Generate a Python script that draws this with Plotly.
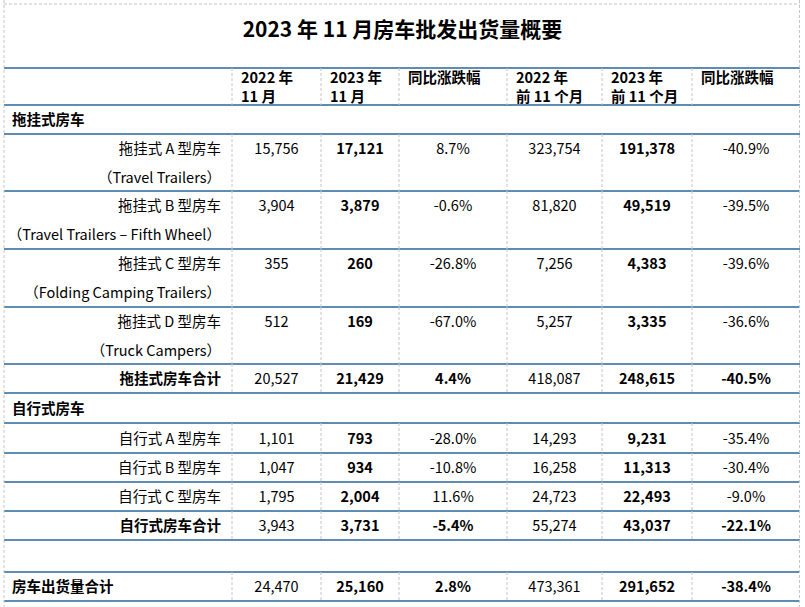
import plotly.graph_objects as go

# ---------------- data ----------------
TITLE = "2023 年 11 月房车批发出货量概要"
HEADERS = [["2022 年", "11 月"], ["2023 年", "11 月"], ["同比涨跌幅"],
           ["2022 年", "前 11 个月"], ["2023 年", "前 11 个月"], ["同比涨跌幅"]]
SECTIONS = ["拖挂式房车", "自行式房车"]
TOWABLE = ["拖挂式 A 型房车", "拖挂式 B 型房车", "拖挂式 C 型房车", "拖挂式 D 型房车"]
TOWABLE_EN = ["（Travel Trailers）", "（Travel Trailers – Fifth Wheel）",
              "（Folding Camping Trailers）", "（Truck Campers）"]
MOTORHOME = ["自行式 A 型房车", "自行式 B 型房车", "自行式 C 型房车"]
SUBTOTALS = ["拖挂式房车合计", "自行式房车合计"]
GRAND_TOTAL = "房车出货量合计"

# row order: 4 towable, towable total, 3 motorhome, motorhome total, grand total
nov_2022 = [15756, 3904, 355, 512, 20527, 1101, 1047, 1795, 3943, 24470]
nov_2023 = [17121, 3879, 260, 169, 21429, 793, 934, 2004, 3731, 25160]
nov_yoy = [8.7, -0.6, -26.8, -67.0, 4.4, -28.0, -10.8, 11.6, -5.4, 2.8]
ytd_2022 = [323754, 81820, 7256, 5257, 418087, 14293, 16258, 24723, 55274, 473361]
ytd_2023 = [191378, 49519, 4383, 3335, 248615, 9231, 11313, 22493, 43037, 291652]
ytd_yoy = [-40.9, -39.5, -39.6, -36.6, -40.5, -35.4, -30.4, -9.0, -22.1, -38.4]

# ---------------- layout (pixels) ----------------
W, H = 805, 607
COL_EDGES = [4, 232, 321, 399, 507, 602, 692, 800]
HEAD_TOP, HEAD_BOT = 68, 105
# body rows: (kind, bottom edge)
ROWS = [("section", 134), ("item2", 191), ("item2", 249), ("item2", 307), ("item2", 364),
        ("subtotal", 393), ("section", 423), ("item", 453), ("item", 482), ("item", 511),
        ("subtotal", 540), ("blank", 572), ("total", 601)]
FONT = "Noto Sans CJK SC, Noto Sans, sans-serif"
BLUE = "#2a6698"
GREY = "#c4c4c4"
DY = 2  # CJK font sits a little high in its line box

fig = go.Figure()


def add_text(xs, ys, texts, pos, size=14.5, bold=False):
    if bold:
        texts = ["<b>%s</b>" % t for t in texts]
    fig.add_trace(go.Scatter(
        x=xs, y=[y + DY for y in ys], text=texts, mode="text", textposition=pos,
        textfont=dict(family=FONT, size=size, color="#000000"),
        hoverinfo="skip", showlegend=False))


def fmt_int(v):
    return "{:,}".format(v)


def fmt_pct(v):
    return "{:.1f}%".format(v)


# title
add_text([W / 2], [30], [TITLE], "middle center", size=21, bold=True)

# header
for i, lines in enumerate(HEADERS):
    x0 = COL_EDGES[i + 1] + 9
    add_text([x0] * len(lines), [77, 96.5][:len(lines)], lines, "middle right", bold=True)

# body rows
top = HEAD_BOT
data_y = []
sec_i = sub_i = item_i = 0
vlines = [(HEAD_TOP, HEAD_BOT)]
hlines = [HEAD_TOP, HEAD_BOT]
item_names = TOWABLE + MOTORHOME
for kind, bot in ROWS:
    mid = (top + bot) / 2
    hlines.append(bot)
    label_x = COL_EDGES[1] - 11
    if kind == "section":
        add_text([COL_EDGES[0] + 8], [mid], [SECTIONS[sec_i]], "middle right", bold=True)
        sec_i += 1
    elif kind == "item2":
        add_text([label_x, label_x], [top + 14.5, top + 43.5],
                 [item_names[item_i], TOWABLE_EN[item_i]], "middle left")
        data_y.append(top + 14.5)
        item_i += 1
        vlines.append((top, bot))
    elif kind == "item":
        add_text([label_x], [mid], [item_names[item_i]], "middle left")
        data_y.append(mid)
        item_i += 1
        vlines.append((top, bot))
    elif kind == "subtotal":
        add_text([label_x], [mid], [SUBTOTALS[sub_i]], "middle left", bold=True)
        data_y.append(mid)
        sub_i += 1
        vlines.append((top, bot))
    elif kind == "total":
        add_text([COL_EDGES[0] + 8], [mid], [GRAND_TOTAL], "middle right", bold=True)
        data_y.append(mid)
        vlines.append((top, bot))
    top = bot

# data columns
totals = [4, 8, 9]  # indices of subtotal / total rows
centers = [(COL_EDGES[i] + COL_EDGES[i + 1]) / 2 for i in range(1, 7)]
columns = [
    ([fmt_int(v) for v in nov_2022], False),
    ([fmt_int(v) for v in nov_2023], True),
    ([fmt_pct(v) for v in nov_yoy], None),
    ([fmt_int(v) for v in ytd_2022], False),
    ([fmt_int(v) for v in ytd_2023], True),
    ([fmt_pct(v) for v in ytd_yoy], None),
]
for cx, (texts, bold) in zip(centers, columns):
    if bold is None:
        reg = [i for i in range(len(texts)) if i not in totals]
        add_text([cx] * len(reg), [data_y[i] for i in reg], [texts[i] for i in reg], "middle center")
        add_text([cx] * len(totals), [data_y[i] for i in totals], [texts[i] for i in totals],
                 "middle center", bold=True)
    else:
        add_text([cx] * len(texts), data_y, texts, "middle center", bold=bold)

# lines
shapes = []
for y in hlines:
    shapes.append(dict(type="line", xref="x", yref="y", x0=COL_EDGES[0], x1=COL_EDGES[-1],
                       y0=y, y1=y, line=dict(color=BLUE, width=1.6), layer="below"))
for y0, y1 in vlines:
    for x in COL_EDGES[1:-1]:
        shapes.append(dict(type="line", xref="x", yref="y", x0=x, x1=x, y0=y0, y1=y1,
                           line=dict(color=GREY, width=1, dash="3px,2px"), layer="below"))
# page frame
frame = dict(color=GREY, width=1, dash="3px,2px")
shapes.append(dict(type="line", xref="x", yref="y", x0=4, x1=4, y0=0, y1=H, line=frame))
shapes.append(dict(type="line", xref="x", yref="y", x0=799.5, x1=799.5, y0=0, y1=H, line=frame))
shapes.append(dict(type="line", xref="x", yref="y", x0=4, x1=799.5, y0=4, y1=4, line=frame))

fig.update_layout(
    width=W, height=H,
    margin=dict(l=0, r=0, t=0, b=0),
    paper_bgcolor="white", plot_bgcolor="white",
    xaxis=dict(range=[0, W], visible=False, fixedrange=True),
    yaxis=dict(range=[H, 0], visible=False, fixedrange=True),
    shapes=shapes,
    font=dict(family=FONT),
)

# the page body has a default 8px margin; drop it so the chart sits at the window origin
fig.write_html("out.html", config={"displayModeBar": False},
               post_script="document.body.style.margin='0';")
